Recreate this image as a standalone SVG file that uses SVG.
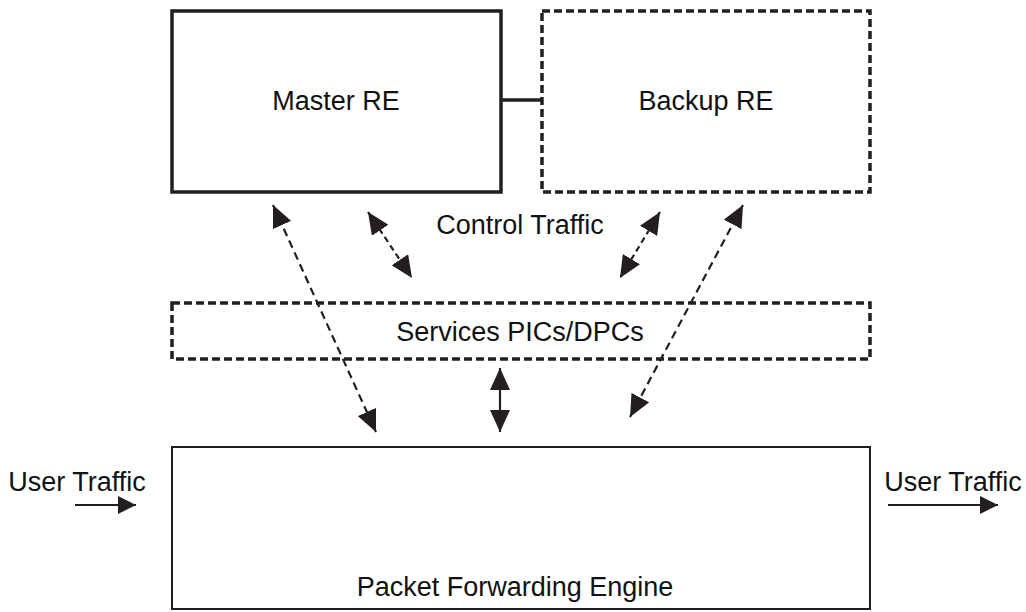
<svg xmlns="http://www.w3.org/2000/svg" width="1026" height="612" viewBox="0 0 1026 612">
<style>
text{font-family:"Liberation Sans",Arial,sans-serif;font-size:27px;fill:#111;text-anchor:middle}
.box{fill:#fff;stroke:#231f20}
.solid{stroke-width:3.5}
.dash{stroke-width:3.5;stroke-dasharray:8 4}
.conn{stroke:#231f20;stroke-width:2.2;fill:none}
.link{stroke-width:3.5}
.dl{stroke-dasharray:8 5}
.ds{stroke-dasharray:6 4}
</style>
<defs>
<marker id="ah" viewBox="0 0 22 20" refX="22" refY="10" markerWidth="22" markerHeight="20" markerUnits="userSpaceOnUse" orient="auto-start-reverse">
<path d="M0,0 L22,10 L0,20 z" fill="#231f20"/>
</marker>
<marker id="ahs" viewBox="0 0 18 18" refX="18" refY="9" markerWidth="18" markerHeight="18" markerUnits="userSpaceOnUse" orient="auto-start-reverse">
<path d="M0,0 L18,9 L0,18 z" fill="#231f20"/>
</marker>
</defs>
<g id="master-re">
<rect class="box solid" x="172" y="11" width="329" height="181"/>
<text x="336" y="110">Master RE</text>
</g>
<g id="backup-re">
<rect class="box dash" x="542" y="11" width="328" height="181"/>
<text x="706" y="110">Backup RE</text>
</g>
<g id="services">
<rect class="box dash" x="172" y="303" width="698" height="56"/>
<text x="520" y="341">Services PICs/DPCs</text>
</g>
<g id="pfe">
<rect class="box" stroke-width="2" x="172" y="447" width="698" height="162"/>
<text x="515" y="596">Packet Forwarding Engine</text>
</g>
<g id="labels">
<text x="520" y="234">Control Traffic</text>
<text x="77" y="491">User Traffic</text>
<text x="953" y="491">User Traffic</text>
</g>
<g id="connectors">
<line class="conn link" x1="501" y1="100" x2="542" y2="100"/>
<line class="conn dl" x1="273" y1="205" x2="376" y2="432" marker-start="url(#ah)" marker-end="url(#ah)"/>
<line class="conn ds" x1="368" y1="212" x2="412" y2="278" marker-start="url(#ah)" marker-end="url(#ah)"/>
<line class="conn ds" x1="660" y1="212" x2="620" y2="278" marker-start="url(#ah)" marker-end="url(#ah)"/>
<line class="conn dl" x1="743" y1="205" x2="630" y2="417" marker-start="url(#ah)" marker-end="url(#ah)"/>
<line class="conn" x1="500" y1="368" x2="500" y2="432" marker-start="url(#ah)" marker-end="url(#ah)"/>
<line class="conn" x1="75" y1="505" x2="136" y2="505" marker-end="url(#ahs)"/>
<line class="conn" x1="888" y1="505" x2="998" y2="505" marker-end="url(#ahs)"/>
</g>
</svg>
